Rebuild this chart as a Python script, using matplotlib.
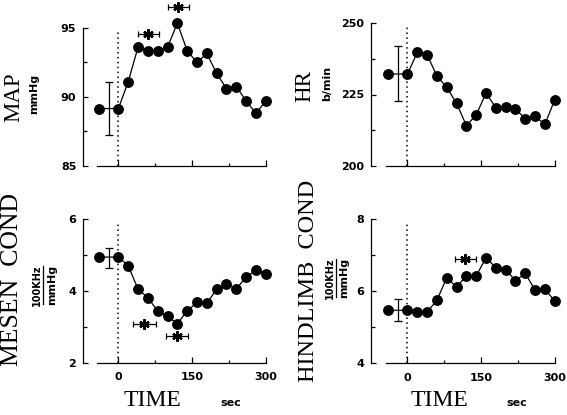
import matplotlib
matplotlib.use("Agg")
import matplotlib.pyplot as plt
from matplotlib.lines import Line2D
from matplotlib.ticker import FixedLocator

# ---------------- data ----------------
time = [-40, 0, 20, 40, 60, 80, 100, 120, 140, 160, 180, 200, 220, 240, 260, 280, 300]

map_vals = [89.15, 89.15, 91.1, 93.6, 93.35, 93.3, 93.6, 95.35, 93.35, 92.5, 93.15,
            91.7, 90.6, 90.75, 89.7, 88.8, 89.7]
map_err = (-20, 89.15, 1.9)
map_stars = [(61, 94.6, 22), (122, 96.55, 22)]

hr_vals = [232.2, 232.2, 239.8, 238.9, 231.5, 227.5, 221.9, 214.1, 217.8, 225.5, 220.4,
           220.5, 219.9, 216.5, 217.4, 214.5, 223.1]
hr_err = (-20, 232.3, 9.6)
hr_stars = []

mesen_vals = [4.94, 4.94, 4.70, 4.05, 3.81, 3.44, 3.29, 3.09, 3.44, 3.68, 3.65,
              4.05, 4.19, 4.06, 4.38, 4.58, 4.47]
mesen_err = (-20, 4.91, 0.28)
mesen_stars = [(53, 3.08, 23), (119, 2.75, 22)]

hind_vals = [5.47, 5.47, 5.41, 5.42, 5.75, 6.37, 6.12, 6.42, 6.42, 6.93, 6.65,
             6.60, 6.29, 6.49, 6.03, 6.05, 5.73]
hind_err = (-20, 5.47, 0.30)
hind_stars = [(118, 6.88, 22)]

x_major = [0, 150, 300]
x_minor = [75, 225]

W, H = 567, 415
fig = plt.figure(figsize=(W / 100, H / 100), dpi=100)


def px(x0, y0, x1, y1):
    return [x0 / W, 1 - y1 / H, (x1 - x0) / W, (y1 - y0) / H]


def panel(rect, xlim, ylim, ymaj, ymin, vals, err, stars, xlabels):
    ax = fig.add_axes(rect)
    ax.set_xlim(*xlim)
    ax.set_ylim(*ylim)
    for s in ("top", "right"):
        ax.spines[s].set_visible(False)
    ax.spines["left"].set_bounds(*ylim)
    ax.spines["bottom"].set_bounds(-43, 300)
    for s in ("left", "bottom"):
        ax.spines[s].set_linewidth(0.9)
    ax.patch.set_alpha(0)

    ax.xaxis.set_major_locator(FixedLocator(x_major))
    ax.xaxis.set_minor_locator(FixedLocator(x_minor))
    ax.yaxis.set_major_locator(FixedLocator(ymaj))
    ax.yaxis.set_minor_locator(FixedLocator(ymin))
    ax.tick_params(axis="both", which="both", direction="in", width=0.9)
    ax.tick_params(axis="x", which="major", length=4.3, pad=7)
    ax.tick_params(axis="x", which="minor", length=2.3)
    ax.tick_params(axis="y", which="major", length=3.6, pad=4.5)
    ax.tick_params(axis="y", which="minor", length=3.0)
    if xlabels:
        ax.set_xticklabels([str(v) for v in x_major])
    else:
        ax.set_xticklabels([])
    ax.set_yticklabels([("%g" % v) for v in ymaj])
    for lab in ax.get_xticklabels() + ax.get_yticklabels():
        lab.set_fontfamily("DejaVu Sans")
        lab.set_fontweight("bold")
        lab.set_fontsize(8)

    rng = ylim[1] - ylim[0]
    ax.plot([0, 0], [ylim[0], ylim[1] - 0.025 * rng], color="black",
            linestyle=(0, (1, 2.2)), linewidth=1.1, clip_on=False)
    ax.plot(time, vals, color="black", linewidth=0.9, marker="o", markersize=6.8,
            markerfacecolor="black", markeredgecolor="black", clip_on=False, zorder=3)
    ax.errorbar([err[0]], [err[1]], yerr=[err[2]], fmt="none", ecolor="black",
                elinewidth=0.9, capsize=2.8, capthick=0.9, clip_on=False)
    for sx, sy, se in stars:
        ax.errorbar([sx], [sy], xerr=[se], fmt="none", ecolor="black",
                    elinewidth=0.9, capsize=2.2, capthick=0.9, clip_on=False)
        ax.plot([sx], [sy], marker=(6, 2, 0), markersize=7.5, color="black",
                markeredgewidth=1.6, clip_on=False, zorder=4)
    return ax


ax1 = panel(px(82.5, 28.0, 82.5 + 188.2, 165.7), (-73, 310), (85, 95),
            [85, 90, 95], [87.5, 92.5], map_vals, map_err, map_stars, False)
ax2 = panel(px(370.7, 23.3, 370.7 + 188.9, 165.7), (-75, 310), (200, 250),
            [200, 225, 250], [212.5, 237.5], hr_vals, hr_err, hr_stars, False)
ax3 = panel(px(82.5, 219.0, 82.5 + 188.2, 362.7), (-73, 310), (2, 6),
            [2, 4, 6], [3, 5], mesen_vals, mesen_err, mesen_stars, True)
ax4 = panel(px(370.7, 219.0, 370.7 + 188.9, 363.3), (-75, 310), (4, 8),
            [4, 6, 8], [5, 7], hind_vals, hind_err, hind_stars, True)

serif = "Liberation Serif"
sans = "DejaVu Sans"


def ftext(x, y, s, size, family, weight="normal", rot=90):
    fig.text(x / W, 1 - y / H, s, rotation=rot, ha="center", va="center",
             fontsize=size, family=family, fontweight=weight)


# y labels
ftext(14, 97, "MAP", 16.5, serif)
ftext(34, 94, "mmHg", 8, sans, "bold")
ftext(305, 86, "HR", 16.5, serif)
ftext(327, 83, "b/min", 8, sans, "bold")
ftext(12.5, 280, "MESEN  COND", 18.5, serif)
ftext(309, 281, "HINDLIMB  COND", 17.5, serif)

# conductance units as fraction
for xn, xl, xd, yc in [(37, 43, 52, 285), (330, 336, 344, 278)]:
    ftext(xn, yc, "100KHz", 7, sans, "bold")
    ftext(xd, yc, "mmHg", 8, sans, "bold")
    fig.add_artist(Line2D([xl / W, xl / W], [1 - (yc + 19) / H, 1 - (yc - 19) / H],
                          color="black", linewidth=0.9))

# x labels
for xt, xs in [(152.5, 230.5), (439, 517)]:
    ftext(xt, 400, "TIME", 17, serif, rot=0)
    ftext(xs, 403, "sec", 8, sans, "bold", rot=0)

fig.savefig("out.png", dpi=100)
